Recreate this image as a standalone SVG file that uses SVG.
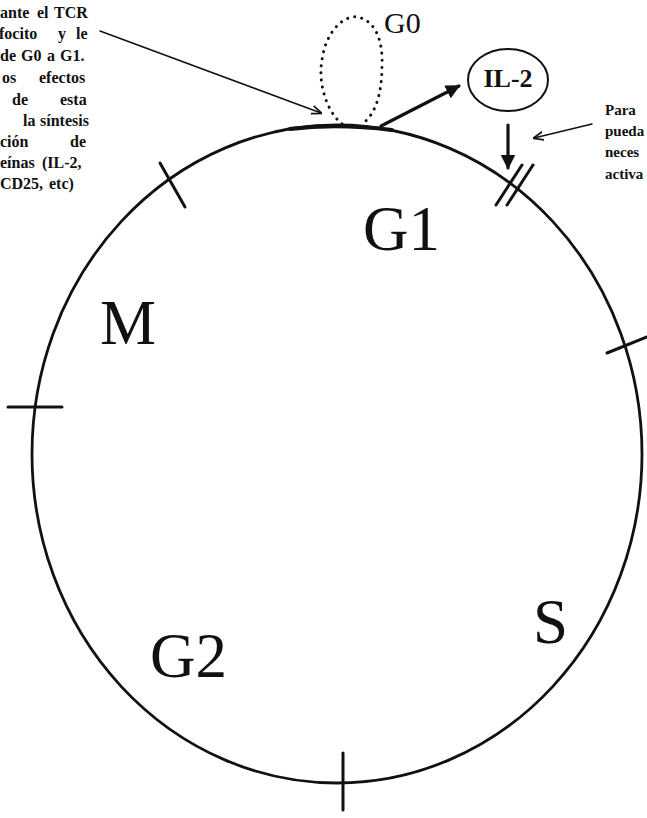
<svg xmlns="http://www.w3.org/2000/svg" width="647" height="818" viewBox="0 0 647 818">
  <style>
    .small { font-family: "Liberation Serif", "Times New Roman", serif; font-size: 16px; font-weight: bold; fill: #111; }
    .smallr { font-family: "Liberation Serif", "Times New Roman", serif; font-size: 15px; font-weight: bold; fill: #111; }
    .big { font-family: "Liberation Serif", "Times New Roman", serif; font-size: 63px; fill: #111; }
    .line { fill: none; stroke: #111; stroke-linecap: round; }
  </style>
  <defs>
    <marker id="solid" viewBox="0 0 10 10" refX="9" refY="5" markerWidth="4.5" markerHeight="4.5" orient="auto" markerUnits="strokeWidth">
      <path d="M0,0 L10,5 L0,10 Z" fill="#111"/>
    </marker>
    <marker id="thin" viewBox="0 0 10 10" refX="9" refY="5" markerWidth="7" markerHeight="7" orient="auto" markerUnits="strokeWidth">
      <path d="M0,1 L10,5 L0,9" fill="none" stroke="#111" stroke-width="1.6"/>
    </marker>
  </defs>
  <rect width="647" height="818" fill="#fff"/>

  <g id="cycle">
    <ellipse cx="337" cy="454" rx="305" ry="329" class="line" stroke-width="2.8"/>
    <path d="M290,129 Q337,123 392,130" class="line" stroke-width="4"/>
  </g>

  <g id="ticks">
    <line x1="160" y1="163" x2="185" y2="207" class="line" stroke-width="3"/>
    <line x1="8" y1="407" x2="62" y2="407" class="line" stroke-width="3"/>
    <line x1="607" y1="353" x2="647" y2="337" class="line" stroke-width="3"/>
    <line x1="343" y1="753" x2="343" y2="810" class="line" stroke-width="3"/>
    <line x1="522" y1="165" x2="496" y2="205" class="line" stroke-width="3"/>
    <line x1="533" y1="165" x2="507" y2="205" class="line" stroke-width="3"/>
  </g>

  <g id="G0-loop">
    <path d="M342,124 C325,110 318,80 322,60 C326,30 345,15 357,17 C375,20 383,40 382,65 C382,95 375,115 362,124" fill="none" stroke="#111" stroke-width="3" stroke-linecap="round" stroke-dasharray="0.1 7"/>
    <text x="384" y="33" font-family="Liberation Serif, Times New Roman, serif" font-size="30" fill="#111">G0</text>
  </g>

  <g id="IL2">
    <ellipse cx="508" cy="80" rx="40" ry="31" fill="none" stroke="#111" stroke-width="2"/>
    <text x="508" y="87" text-anchor="middle" font-family="Liberation Serif, Times New Roman, serif" font-size="26" font-weight="bold" fill="#111">IL-2</text>
  </g>

  <g id="connectors">
    <line x1="381" y1="126" x2="459" y2="86" class="line" stroke-width="3.2" marker-end="url(#solid)"/>
    <line x1="508" y1="125" x2="508" y2="168" class="line" stroke-width="3.2" marker-end="url(#solid)"/>
    <line x1="100" y1="31" x2="321" y2="113" class="line" stroke-width="1.5" marker-end="url(#thin)"/>
    <line x1="592" y1="124" x2="534" y2="138" class="line" stroke-width="1.5" marker-end="url(#thin)"/>
  </g>

  <g id="phase-labels">
    <text x="363" y="250" class="big">G1</text>
    <text x="100" y="344" class="big">M</text>
    <text x="533" y="643" class="big">S</text>
    <text x="150" y="677" class="big">G2</text>
  </g>

  <g id="left-note">
    <text class="small" y="18"><tspan x="0">ante</tspan><tspan x="37">el</tspan><tspan x="54">TCR</tspan></text>
    <text class="small" y="39"><tspan x="-1">focito</tspan><tspan x="58">y</tspan><tspan x="76">le</tspan></text>
    <text class="small" y="61"><tspan x="0">de</tspan><tspan x="21">G0</tspan><tspan x="47">a</tspan><tspan x="60">G1.</tspan></text>
    <text class="small" y="83"><tspan x="2">os</tspan><tspan x="39">efectos</tspan></text>
    <text class="small" y="105"><tspan x="12">de</tspan><tspan x="60">esta</tspan></text>
    <text class="small" y="126"><tspan x="23">la</tspan><tspan x="40">síntesis</tspan></text>
    <text class="small" y="147"><tspan x="0">ción</tspan><tspan x="70">de</tspan></text>
    <text class="small" y="168"><tspan x="0">eínas</tspan><tspan x="42">(IL-2,</tspan></text>
    <text class="small" y="189"><tspan x="0">CD25,</tspan><tspan x="49">etc)</tspan></text>
  </g>

  <g id="right-note">
    <text class="smallr" x="605" y="115">Para</text>
    <text class="smallr" x="605" y="136">pueda</text>
    <text class="smallr" x="605" y="157">neces</text>
    <text class="smallr" x="605" y="179">activa</text>
  </g>
</svg>
